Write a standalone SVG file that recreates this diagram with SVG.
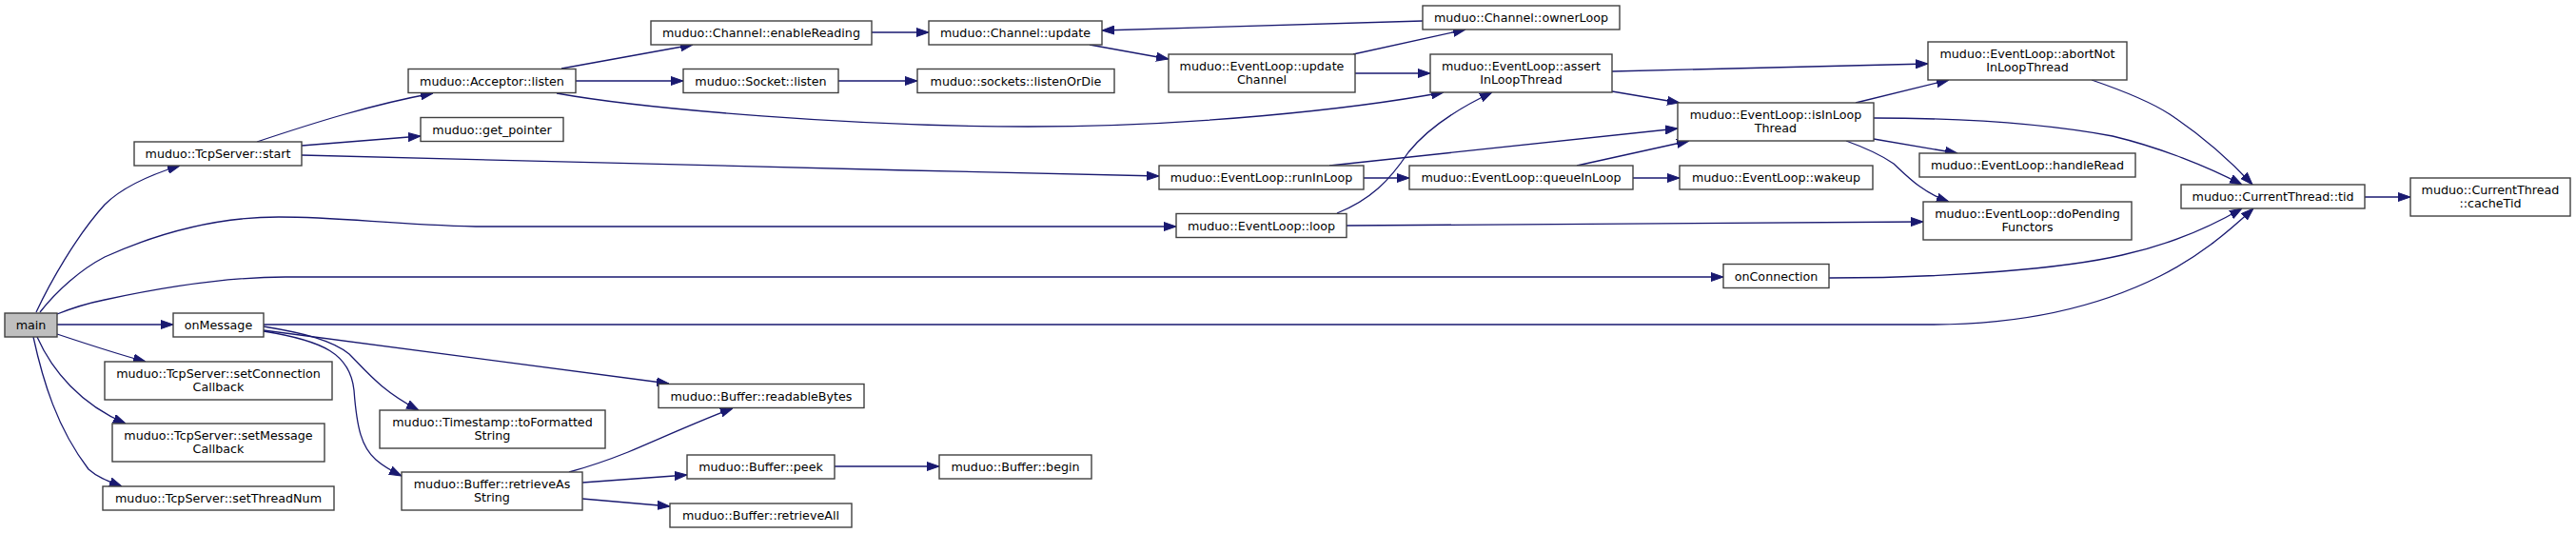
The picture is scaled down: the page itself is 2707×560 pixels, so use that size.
<svg xmlns="http://www.w3.org/2000/svg" width="2707" height="560" viewBox="0 0 2707 560">
<style>
.n rect{fill:#ffffff;stroke:#404040;stroke-width:1.4}
.n text{font-family:"DejaVu Sans","Liberation Sans",sans-serif;font-size:12.7px;fill:#000000;text-anchor:middle}
#main rect{fill:#bfbfbf}
.e path{fill:none;stroke:#191970;stroke-width:1.3;marker-end:url(#ah)}
</style>
<defs>
<marker id="ah" viewBox="0 0 13 10" refX="13" refY="5" markerWidth="13" markerHeight="10" markerUnits="userSpaceOnUse" orient="auto">
<path d="M0,0.5 L13,5 L0,9.5 Z" fill="#191970" stroke="#191970" stroke-width="1"/>
</marker>
</defs>
<rect width="2707" height="560" fill="#ffffff"/>
<g id="edges" class="e">
<path d="M38,328 C52,298 80,248 110,215 C130,195 160,183 189,174"/>
<path d="M42,328 C60,305 85,283 110,270 C170,243 230,228 293,228 C360,228 410,236 500,238 L1236,238"/>
<path d="M60,330 C80,322 95,318 110,315 C170,302 240,291 300,291 L1811,291"/>
<path d="M60,341 L182,341"/>
<path d="M60,351 C90,361 120,371 153,380"/>
<path d="M39,354 C55,390 85,425 132,445"/>
<path d="M35,354 C45,400 60,450 93,493 C103,502 115,506 128,511"/>
<path d="M270,149 C330,129 390,110 455,98"/>
<path d="M317,153 L442,143"/>
<path d="M317,163 C500,168 900,178 1218,185"/>
<path d="M590,72 L728,47"/>
<path d="M605,85 L718,85"/>
<path d="M585,98 C680,115 900,133 1080,133 C1250,133 1420,115 1517,97"/>
<path d="M881,85 L964,85"/>
<path d="M916,34 L976,34"/>
<path d="M1145,47 L1228,62"/>
<path d="M1495,22 L1158,32"/>
<path d="M1422,57 L1540,31"/>
<path d="M1424,77 L1503,77"/>
<path d="M1694,75 L2026,67"/>
<path d="M1694,96 L1765,108"/>
<path d="M1405,224 C1440,210 1460,190 1480,160 C1500,135 1530,115 1568,97"/>
<path d="M1415,237 L2021,233"/>
<path d="M1397,174 L1763,135"/>
<path d="M1433,187 L1481,187"/>
<path d="M1657,174 L1775,148"/>
<path d="M1716,187 L1765,187"/>
<path d="M1950,108 L2048,84"/>
<path d="M1969,146 L2057,161"/>
<path d="M1940,148 C1965,157 1980,165 1990,172 C2005,186 2020,202 2048,212"/>
<path d="M1969,124 C2060,124 2150,130 2220,143 C2270,155 2320,175 2356,194"/>
<path d="M2198,84 C2230,95 2260,107 2280,120 C2310,140 2340,165 2367,194"/>
<path d="M1922,292 C2050,292 2170,282 2230,268 C2280,257 2320,240 2356,219"/>
<path d="M277,341 L2030,341 C2130,341 2210,320 2270,290 C2310,270 2340,245 2368,219"/>
<path d="M277,347 L703,403"/>
<path d="M277,343 C320,350 350,358 367,372 C385,390 400,410 440,431"/>
<path d="M277,348 C340,358 368,372 372,410 C375,450 380,470 395,483 C403,490 412,495 422,500"/>
<path d="M598,496 C620,490 640,483 660,475 C700,458 740,440 770,429"/>
<path d="M612,507 L722,499"/>
<path d="M612,524 L704,532"/>
<path d="M877,490 L987,490"/>
<path d="M2485,207 L2533,207"/>
</g>
<g id="main" class="n"><rect x="5" y="329" width="55" height="25"/><text x="32.5" y="346">main</text></g>
<g id="tcpserver_start" class="n"><rect x="141" y="149" width="176" height="25"/><text x="229" y="166">muduo::TcpServer::start</text></g>
<g id="onMessage" class="n"><rect x="182" y="329" width="95" height="25"/><text x="229.5" y="346">onMessage</text></g>
<g id="setConnectionCallback" class="n"><rect x="110" y="380" width="239" height="40"/><text x="229.5" y="396.5">muduo::TcpServer::setConnection</text><text x="229.5" y="411">Callback</text></g>
<g id="setMessageCallback" class="n"><rect x="118" y="445" width="223" height="40"/><text x="229.5" y="461.5">muduo::TcpServer::setMessage</text><text x="229.5" y="476">Callback</text></g>
<g id="setThreadNum" class="n"><rect x="108" y="511" width="243" height="25"/><text x="229.5" y="528">muduo::TcpServer::setThreadNum</text></g>
<g id="acceptor_listen" class="n"><rect x="429" y="72.5" width="176" height="25"/><text x="517" y="89.5">muduo::Acceptor::listen</text></g>
<g id="get_pointer" class="n"><rect x="442" y="123.5" width="150" height="25"/><text x="517" y="140.5">muduo::get_pointer</text></g>
<g id="toFormattedString" class="n"><rect x="399" y="431" width="237" height="40"/><text x="517.5" y="447.5">muduo::Timestamp::toFormatted</text><text x="517.5" y="462">String</text></g>
<g id="retrieveAsString" class="n"><rect x="422" y="496" width="190" height="40"/><text x="517" y="512.5">muduo::Buffer::retrieveAs</text><text x="517" y="527">String</text></g>
<g id="enableReading" class="n"><rect x="684" y="22" width="232" height="25"/><text x="800" y="39">muduo::Channel::enableReading</text></g>
<g id="socket_listen" class="n"><rect x="718" y="72.5" width="163" height="25"/><text x="799.5" y="89.5">muduo::Socket::listen</text></g>
<g id="readableBytes" class="n"><rect x="692" y="403.5" width="216" height="25"/><text x="800" y="420.5">muduo::Buffer::readableBytes</text></g>
<g id="peek" class="n"><rect x="722" y="478" width="155" height="25"/><text x="799.5" y="495">muduo::Buffer::peek</text></g>
<g id="retrieveAll" class="n"><rect x="704" y="529" width="191" height="25"/><text x="799.5" y="546">muduo::Buffer::retrieveAll</text></g>
<g id="channel_update" class="n"><rect x="976" y="22" width="182" height="25"/><text x="1067" y="39">muduo::Channel::update</text></g>
<g id="listenOrDie" class="n"><rect x="964" y="72.5" width="207" height="25"/><text x="1067.5" y="89.5">muduo::sockets::listenOrDie</text></g>
<g id="buffer_begin" class="n"><rect x="987" y="478" width="160" height="25"/><text x="1067" y="495">muduo::Buffer::begin</text></g>
<g id="updateChannel" class="n"><rect x="1228" y="57" width="196" height="40"/><text x="1326" y="73.5">muduo::EventLoop::update</text><text x="1326" y="88">Channel</text></g>
<g id="runInLoop" class="n"><rect x="1218" y="174" width="215" height="25"/><text x="1325.5" y="191">muduo::EventLoop::runInLoop</text></g>
<g id="loop" class="n"><rect x="1236" y="224.5" width="179" height="25"/><text x="1325.5" y="241.5">muduo::EventLoop::loop</text></g>
<g id="ownerLoop" class="n"><rect x="1495" y="6" width="207" height="25"/><text x="1598.5" y="23">muduo::Channel::ownerLoop</text></g>
<g id="assertInLoopThread" class="n"><rect x="1503" y="57" width="191" height="40"/><text x="1598.5" y="73.5">muduo::EventLoop::assert</text><text x="1598.5" y="88">InLoopThread</text></g>
<g id="queueInLoop" class="n"><rect x="1481" y="174" width="235" height="25"/><text x="1598.5" y="191">muduo::EventLoop::queueInLoop</text></g>
<g id="isInLoopThread" class="n"><rect x="1763" y="108" width="206" height="40"/><text x="1866" y="124.5">muduo::EventLoop::isInLoop</text><text x="1866" y="139">Thread</text></g>
<g id="wakeup" class="n"><rect x="1765" y="174" width="203" height="25"/><text x="1866.5" y="191">muduo::EventLoop::wakeup</text></g>
<g id="onConnection" class="n"><rect x="1811" y="277.5" width="111" height="25"/><text x="1866.5" y="294.5">onConnection</text></g>
<g id="abortNotInLoopThread" class="n"><rect x="2026" y="44" width="209" height="40"/><text x="2130.5" y="60.5">muduo::EventLoop::abortNot</text><text x="2130.5" y="75">InLoopThread</text></g>
<g id="handleRead" class="n"><rect x="2017" y="161" width="227" height="25"/><text x="2130.5" y="178">muduo::EventLoop::handleRead</text></g>
<g id="doPendingFunctors" class="n"><rect x="2021" y="212" width="219" height="40"/><text x="2130.5" y="228.5">muduo::EventLoop::doPending</text><text x="2130.5" y="243">Functors</text></g>
<g id="tid" class="n"><rect x="2292" y="194" width="193" height="25"/><text x="2388.5" y="211">muduo::CurrentThread::tid</text></g>
<g id="cacheTid" class="n"><rect x="2533" y="187" width="168" height="40"/><text x="2617" y="203.5">muduo::CurrentThread</text><text x="2617" y="218">::cacheTid</text></g>
</svg>
